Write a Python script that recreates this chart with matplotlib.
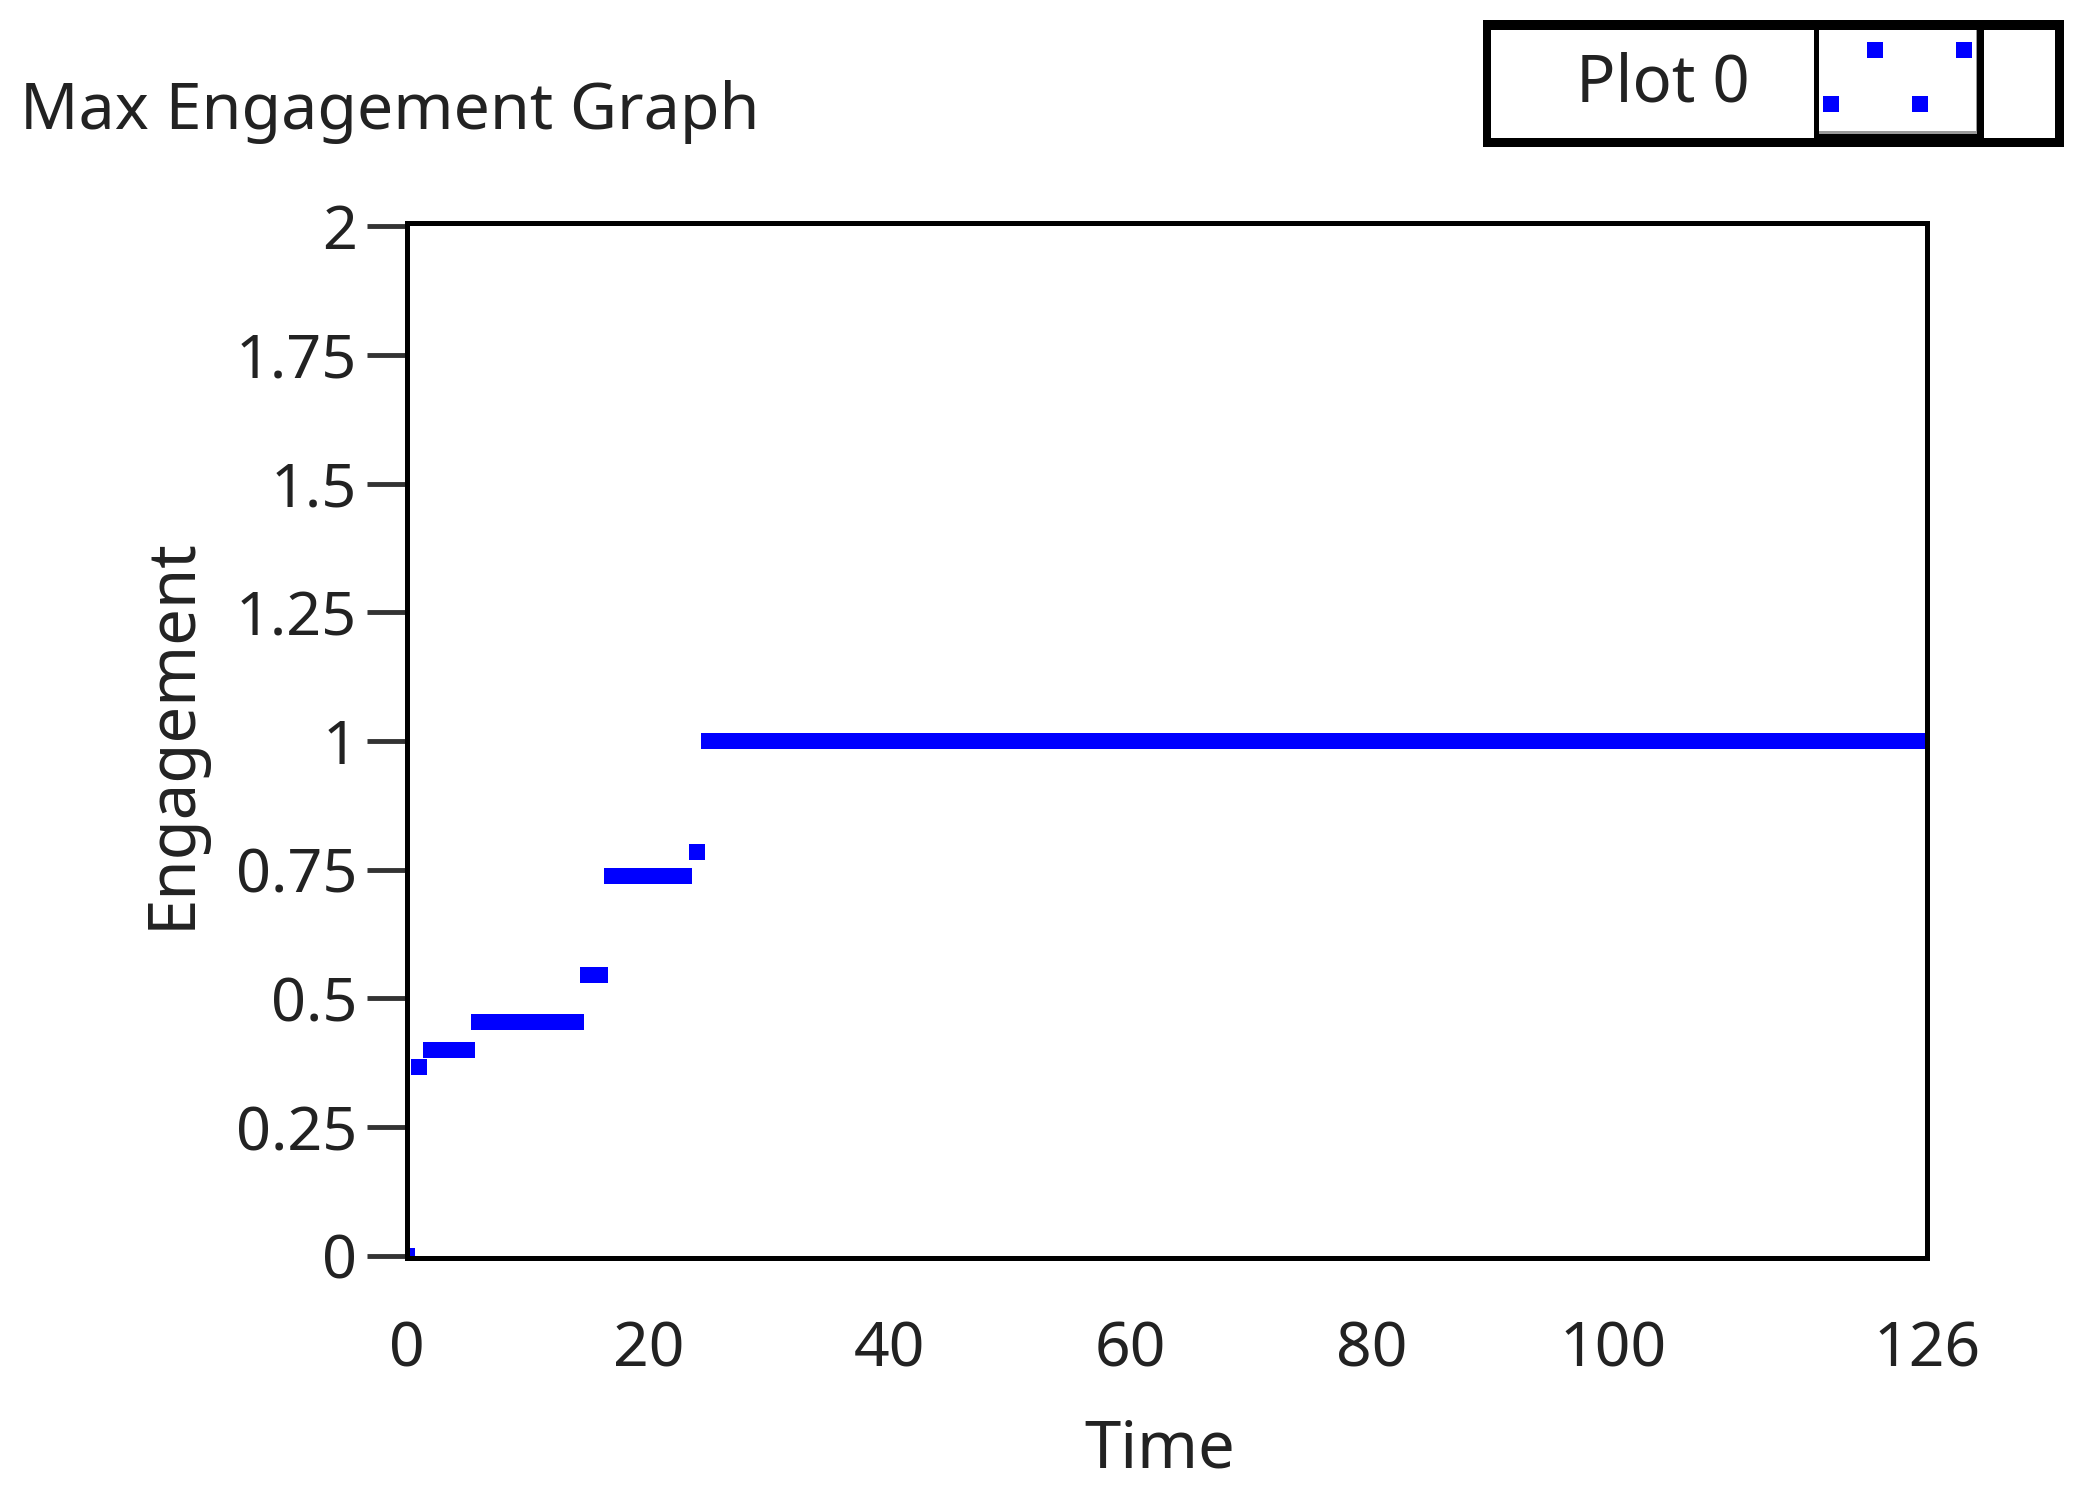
import numpy as np
import matplotlib
matplotlib.use("Agg")
import matplotlib.pyplot as plt
from matplotlib.patches import Rectangle

# data: step levels and the time where each starts
step_starts = [0, 1, 2, 6, 15, 17, 24, 25]
step_levels = [0.0, 0.366, 0.4, 0.455, 0.546, 0.737, 0.784, 1.0]
t_end = 126

x_ticks = [0, 20, 40, 60, 80, 100, 126]
y_ticks = [0, 0.25, 0.5, 0.75, 1, 1.25, 1.5, 1.75, 2]
y_ticklabels = ["0", "0.25", "0.5", "0.75", "1", "1.25", "1.5", "1.75", "2"]

# legend sample pattern (the zig-zag of dots in the legend)
legend_x = [0, 1, 2, 3]
legend_y = [0, 1, 0, 1]

# one sample per time step
counts = np.diff(step_starts + [t_end + 1])
time = np.arange(0, t_end + 1)
engagement = np.repeat(step_levels, counts)

W, H = 2091, 1492
fig = plt.figure(figsize=(W / 100, H / 100), dpi=100)
fx = lambda px: px / W
fy = lambda py: 1 - py / H

text_font = ["Noto Sans", "DejaVu Sans"]

ax = fig.add_axes([fx(407), fy(1258), fx(1927) - fx(407), fy(223) - fy(1258)])
ax.plot(time, engagement, ls="none", marker="s", markersize=12.2,
        markeredgewidth=0, color="#0000ff")
ax.set_xlim(0, 126)
ax.set_ylim(-0.004, 2.006)

ax.set_xticks(x_ticks)
ax.set_xticklabels([str(v) for v in x_ticks], fontfamily=text_font, fontsize=45, color="#222222")
ax.set_yticks(y_ticks)
ax.set_yticklabels(y_ticklabels, fontfamily=text_font, fontsize=44, color="#222222")
ax.tick_params(axis="x", length=0, pad=44)
ax.tick_params(axis="y", direction="out", length=29, width=3.5, color="#333333", pad=7)

for s in ax.spines.values():
    s.set_linewidth(3.6)
    s.set_color("black")

# title and axis labels
fig.text(fx(20), fy(129), "Max Engagement Graph", fontfamily=text_font, fontsize=46.5,
         color="#222222", ha="left", va="baseline")
fig.text(fx(173), fy(733), "Engagement", fontfamily=text_font, fontsize=47,
         color="#222222", rotation=90, ha="center", va="center")
fig.text(fx(1160), fy(1467), "Time", fontfamily=text_font, fontsize=47,
         color="#222222", ha="center", va="baseline")

# legend box built like the LabVIEW plot legend
def box(x0, y0, x1, y1, color):
    fig.add_artist(Rectangle((fx(x0), fy(y1)), fx(x1) - fx(x0), fy(y0) - fy(y1),
                             transform=fig.transFigure, facecolor=color,
                             edgecolor="none", zorder=1))

box(1483, 20, 2064, 147, "black")
box(1491, 30, 1814, 138, "white")
box(1819, 30, 1977, 134, "#999999")
box(1819, 30, 1976, 131, "white")
box(1984, 30, 2055, 138, "white")
fig.text(fx(1663), fy(84), "Plot 0", fontfamily=text_font, fontsize=47,
         color="#222222", ha="center", va="center", zorder=3)

lax = fig.add_axes([fx(1819), fy(131), fx(1976) - fx(1819), fy(30) - fy(131)])
lax.set_zorder(5)
lax.plot(legend_x, legend_y, ls="none", marker="s", markersize=11,
         markeredgewidth=0, color="#0000ff")
lax.set_xlim(-0.271, 3.271)
lax.set_ylim(-0.491, 1.364)
lax.axis("off")

fig.savefig("out.png", dpi=100, facecolor="white")
